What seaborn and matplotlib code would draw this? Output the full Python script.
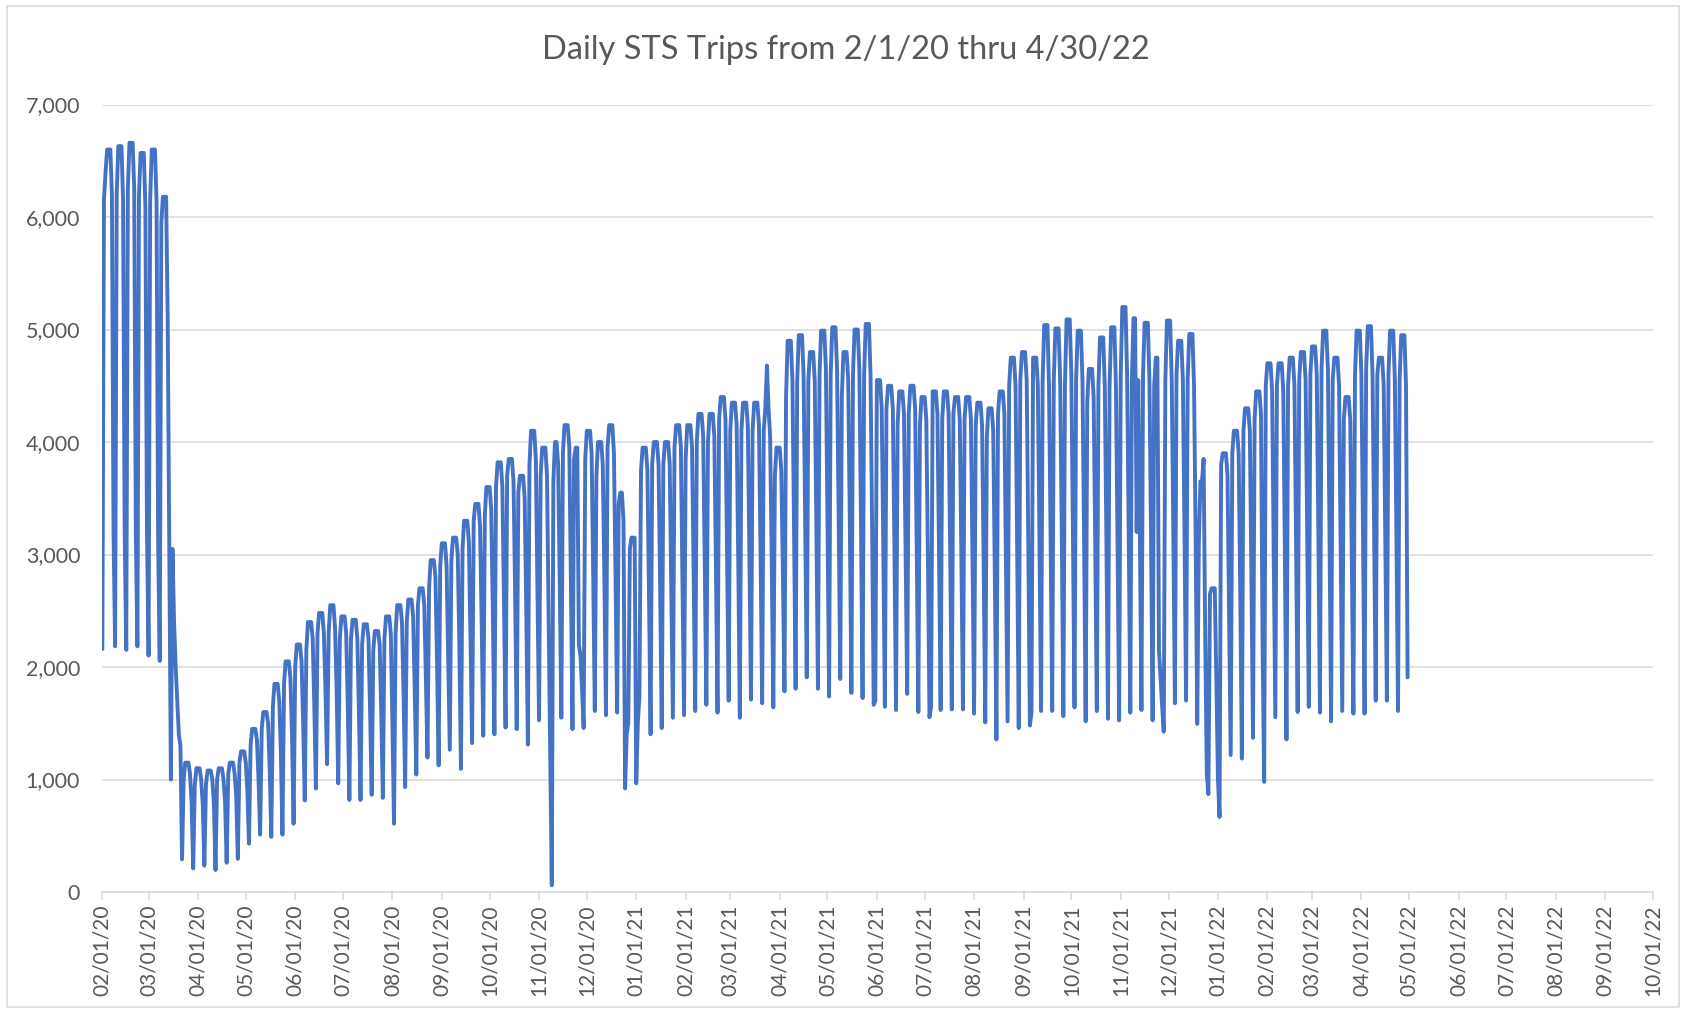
import matplotlib
matplotlib.use('Agg')
import matplotlib.pyplot as plt
import matplotlib.dates as mdates
from matplotlib.patches import Rectangle
from matplotlib.ticker import FuncFormatter
import pandas as pd
import seaborn as sns

# weekly readings, week k starts on a Saturday (2/1/20 is a Saturday)
# sat = Saturday, sun = Sunday, mon = Monday, wkday = Tue-Thu level, fri = Friday
sat = [2160, 3200, 3200, 3200, 3200, 3100, 3000, 1300, 800, 780,
       780, 800, 850, 900, 1000, 1100, 1250, 1400, 1500, 1650,
       1800, 1800, 1650, 1600, 1600, 1600, 1500, 1750, 1800, 1900,
       2050, 2100, 2200, 2250, 2400, 2500, 2600, 2650, 2500, 2700,
       2450, 2750, 2750, 1800, 2800, 2800, 2800, 1400, 1500, 2650,
       2700, 2700, 2800, 2850, 2900, 2900, 3000, 2950, 3000, 3000,
       2950, 2850, 3250, 3300, 3300, 3300, 3350, 3300, 3300, 3250,
       3100, 3050, 3050, 3050, 3000, 3000, 3000, 3000, 2950, 2900,
       2800, 2900, 3100, 3100, 3150, 3150, 3200, 3200, 3150, 3100,
       3150, 3100, 3200, 3200, 3200, 1650, 3200, 3200, 3150, 1050,
       1000, 2500, 2650, 2800, 2200, 3000, 3000, 3150, 3200, 3200,
       3200, 3100, 2950, 3200, 3200, 3150, 3150, 1908]
sun = [6150, 2184, 2152, 2184, 2101, 2055, 1000, 290, 210, 235,
       195, 260, 295, 430, 510, 490, 510, 607, 814, 920,
       1136, 966, 818, 818, 864, 837, 607, 933, 1044, 1195,
       1126, 1264, 1094, 1324, 1389, 1402, 1462, 1448, 1310, 1526,
       1250, 1549, 1448, 1457, 1609, 1572, 1595, 1500, 1750, 1402,
       1457, 1549, 1572, 1609, 1664, 1595, 1701, 1549, 1710, 1678,
       1641, 1784, 1807, 1908, 1807, 1738, 1894, 1770, 1724, 1664,
       1646, 1618, 1761, 1600, 1554, 1618, 1623, 1623, 1586, 1508,
       1356, 1517, 1457, 1480, 1609, 1609, 1563, 1641, 1517, 1609,
       1540, 1526, 1595, 1618, 1526, 1425, 1678, 1701, 1494, 870,
       667, 1218, 1186, 1370, 979, 1554, 1356, 1600, 1646, 1595,
       1517, 1609, 1586, 1586, 1701, 1701, 1609]
mon = [6400, 6200, 6250, 6200, 6150, 5950, 3050, 1000, 950, 950,
       1000, 1050, 1150, 1300, 1450, 1650, 1850, 2000, 2150, 2300,
       2300, 2250, 2250, 2200, 2150, 2250, 2300, 2400, 2550, 2700,
       2900, 2950, 3050, 3300, 3350, 3600, 3700, 3550, 3800, 3700,
       60, 3900, 3850, 3850, 3700, 3950, 3450, 3050, 3750, 3800,
       3800, 3950, 3850, 4000, 4000, 4200, 4100, 4100, 4100, 4100,
       3700, 4400, 4550, 4550, 4600, 4600, 4400, 4600, 4600, 1700,
       4300, 4150, 4250, 4150, 1650, 4200, 4250, 4200, 4150, 4050,
       4250, 4500, 4550, 1600, 4550, 4550, 4500, 4550, 4350, 4500,
       4500, 4600, 4550, 4600, 4500, 4550, 4600, 4550, 3100, 2650,
       3800, 3900, 4100, 4200, 4500, 4500, 4500, 4550, 4600, 4650,
       4550, 4200, 4600, 4650, 4600, 4600, 4550]
wkday = [6600, 6630, 6660, 6570, 6600, 6180, 2000, 1150, 1100, 1080,
         1100, 1150, 1250, 1450, 1600, 1850, 2050, 2200, 2400, 2480,
         2550, 2450, 2420, 2380, 2320, 2450, 2550, 2600, 2700, 2950,
         3100, 3150, 3300, 3450, 3600, 3820, 3850, 3700, 4100, 3950,
         4000, 4150, 3950, 4100, 4000, 4150, 3550, 3150, 3950, 4000,
         4000, 4150, 4150, 4250, 4250, 4400, 4350, 4350, 4350, 4300,
         3950, 4900, 4950, 4800, 4990, 5020, 4800, 5000, 5050, 4550,
         4500, 4450, 4500, 4400, 4450, 4450, 4400, 4400, 4350, 4300,
         4450, 4750, 4800, 4750, 5040, 5010, 5090, 4990, 4650, 4930,
         5020, 5200, 5100, 5060, 4750, 5080, 4900, 4960, 3650, 2700,
         3900, 4100, 4300, 4450, 4700, 4700, 4750, 4800, 4850, 4990,
         4750, 4400, 4990, 5030, 4750, 4990, 4950]
fri = [6200, 6150, 6250, 6100, 6150, 5100, 1400, 1050, 1000, 1000,
       1000, 1050, 1150, 1350, 1500, 1700, 1900, 2050, 2250, 2300,
       2350, 2300, 2250, 2250, 2200, 2300, 2400, 2450, 2550, 2800,
       2900, 3000, 3100, 3250, 3400, 3600, 3650, 3500, 3850, 3700,
       3800, 3950, 2100, 3900, 3800, 3900, 920, 966, 3750, 3800,
       3800, 3950, 3950, 4050, 4050, 4200, 4150, 4150, 4150, 4050,
       3750, 4550, 4600, 4550, 4650, 4650, 4550, 4650, 4600, 4300,
       4300, 4250, 4300, 4200, 4250, 4250, 4200, 4200, 4150, 4100,
       4250, 4500, 4550, 4500, 4500, 4550, 4600, 4550, 4400, 4500,
       4500, 4600, 4550, 4550, 1900, 4550, 4550, 4500, 2300, 1900,
       3700, 3900, 4100, 4250, 4450, 4450, 4500, 4550, 4600, 4650,
       4500, 4200, 4600, 4600, 4500, 4550, 4500]

# single days that break the weekly pattern (covid start, storm, holidays)
odd_dates = ['2020-03-17', '2020-03-18', '2020-03-19', '2020-11-10', '2020-11-26',
             '2020-12-24', '2021-03-24', '2021-11-11', '2021-11-25', '2021-12-23']
odd_trips = [2400, 2000, 1700, 3650, 2200,
             3300, 4680, 3200, 2150, 3850]

trips = []
for k in range(len(wkday)):
    trips += [sat[k], sun[k], mon[k]] + [wkday[k]] * 3 + [fri[k]]
trips.append(sat[-1])

df = pd.DataFrame({'date': pd.date_range('2020-02-01', '2022-04-30', freq='D'),
                   'trips': trips})
df = df.set_index('date')
for d, v in zip(odd_dates, odd_trips):
    df.loc[pd.Timestamp(d), 'trips'] = v
df = df.reset_index()

sns.set_theme(style='white')
plt.rcParams['font.family'] = ['Lato', 'DejaVu Sans']

grey = '#595959'
fig = plt.figure(figsize=(16.89, 10.11), dpi=100)
ax = fig.add_axes([0.0606, 0.1177, 0.9181, 0.7789])

sns.lineplot(data=df, x='date', y='trips', ax=ax, color='#4472C4', linewidth=2.8)

ax.set_xlim(pd.Timestamp('2020-02-01'), pd.Timestamp('2022-10-01'))
ax.set_ylim(0, 7000)
ax.set_yticks(range(0, 7001, 1000))
ax.yaxis.set_major_formatter(FuncFormatter(lambda v, p: f'{v:,.0f}'))
ax.xaxis.set_major_locator(mdates.MonthLocator())
ax.xaxis.set_major_formatter(mdates.DateFormatter('%m/%d/%y'))
ax.grid(axis='y', color='#D9D9D9', linewidth=1.1)
ax.set_axisbelow(True)
ax.set_xlabel('')
ax.set_ylabel('')

for s in ['top', 'right', 'left']:
    ax.spines[s].set_visible(False)
ax.spines['bottom'].set_color('#D9D9D9')
ax.spines['bottom'].set_linewidth(1.1)

ax.tick_params(axis='x', bottom=True, length=6, width=1.1, color='#D9D9D9',
               labelsize=15, labelcolor=grey, labelrotation=90, pad=3)
ax.tick_params(axis='y', left=False, labelsize=15.5, labelcolor=grey, pad=10)

fig.text(0.501, 0.951, 'Daily STS Trips from 2/1/20 thru 4/30/22',
         ha='center', va='center', fontsize=23.5, color=grey)

fig.patches.append(Rectangle((0.004, 0.004), 0.99, 0.99, transform=fig.transFigure,
                             fill=False, edgecolor='#D9D9D9', linewidth=1.2))

fig.savefig('out.png', dpi=100)
